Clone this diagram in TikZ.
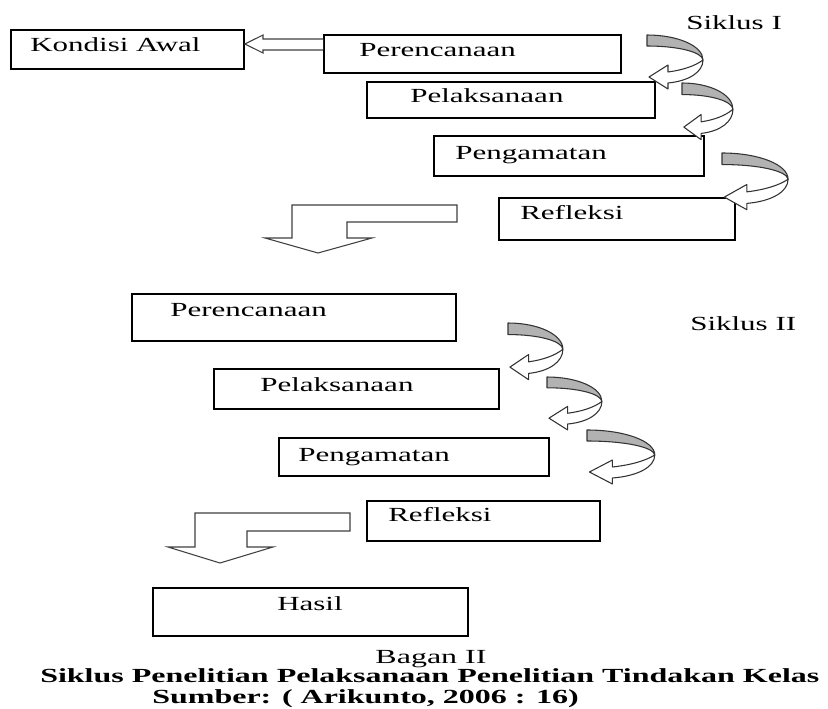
\documentclass[tikz,border=0pt]{standalone}
\usepackage{fontspec}
\setmainfont{Liberation Serif}
\newcommand{\wtxt}[1]{\scalebox{1.55}[1]{#1}}
\newcommand{\wcap}[1]{\scalebox{1.6}[1]{#1}}
\tikzset{
  boxst/.style={draw=black, line width=1.4pt, fill=white},
  txt/.style={inner sep=0pt, font=\fontsize{15}{18}\selectfont, text=black},
  captxt/.style={inner sep=0pt, font=\fontsize{15}{18}\selectfont, text=black},
  blockarrow/.style={draw=black!75, line width=0.8pt, fill=white, line join=miter},
  curlline/.style={draw=black!80, line width=0.8pt, line join=round}
}
\newcommand{\curlarrow}[4]{%
\begin{scope}[shift={(#1,#2)},xscale=#3,yscale=#4]
\filldraw[curlline, fill=gray!60] (0,0) .. controls (31,0) and (56,11) .. (56,25)
   .. controls (55,17) and (31,11) .. (0,11) -- cycle;
\filldraw[curlline, fill=white] (56,25) .. controls (56,37) and (42,46) .. (21,48)
   -- (21,54) -- (2,42) -- (21,30) -- (21,37) .. controls (36,35) and (48,31) .. (56,25) -- cycle;
\end{scope}}
\begin{document}
\begin{tikzpicture}[x=0.75pt,y=-0.75pt]
\useasboundingbox (0,0) rectangle (828,709);
\fill[white] (0,0) rectangle (828,709);

% boxes
\node[boxst, minimum width=233*0.75pt, minimum height=39*0.75pt, anchor=north west] (ka) at (10,29) {};
\node[boxst, minimum width=297*0.75pt, minimum height=38*0.75pt, anchor=north west] (p1) at (323,34) {};
\node[boxst, minimum width=288*0.75pt, minimum height=36*0.75pt, anchor=north west] (l1) at (366,81) {};
\node[boxst, minimum width=270*0.75pt, minimum height=40*0.75pt, anchor=north west] (g1) at (433,135) {};
\node[boxst, minimum width=236*0.75pt, minimum height=42*0.75pt, anchor=north west] (r1) at (498,197) {};
\node[boxst, minimum width=324*0.75pt, minimum height=47*0.75pt, anchor=north west] (p2) at (131,293) {};
\node[boxst, minimum width=285*0.75pt, minimum height=40*0.75pt, anchor=north west] (l2) at (213,368) {};
\node[boxst, minimum width=270*0.75pt, minimum height=38*0.75pt, anchor=north west] (g2) at (278,437) {};
\node[boxst, minimum width=233*0.75pt, minimum height=40*0.75pt, anchor=north west] (r2) at (366,500) {};
\node[boxst, minimum width=315*0.75pt, minimum height=48*0.75pt, anchor=north west] (hs) at (152,587) {};

% texts
\node[txt, anchor=base west] (tka) at (30,52) {\wtxt{Kondisi Awal}};
\node[txt, anchor=base west] (tp1) at (359,57) {\wtxt{Perencanaan}};
\node[txt, anchor=base west] (tl1) at (410,103) {\wtxt{Pelaksanaan}};
\node[txt, anchor=base west] (tg1) at (455,160) {\wtxt{Pengamatan}};
\node[txt, anchor=base west] (tr1) at (520,220) {\wtxt{Refleksi}};
\node[txt, anchor=base west] (tp2) at (170,316) {\wtxt{Perencanaan}};
\node[txt, anchor=base west] (tl2) at (260,391) {\wtxt{Pelaksanaan}};
\node[txt, anchor=base west] (tg2) at (298,461) {\wtxt{Pengamatan}};
\node[txt, anchor=base west] (tr2) at (388,521) {\wtxt{Refleksi}};
\node[txt, anchor=base] (ths) at (310,610) {\wtxt{Hasil}};
\node[txt, anchor=base west] (s1) at (686,30) {\wtxt{Siklus I}};
\node[txt, anchor=base west] (s2) at (690,330) {\wtxt{Siklus II}};

% caption
\node[captxt, anchor=base] (bagan) at (431,663) {\wcap{Bagan II}};
\node[captxt, anchor=base west, font=\fontsize{15}{18}\selectfont\bfseries] (cap2) at (40,682) {\wcap{Siklus Penelitian Pelaksanaan Penelitian Tindakan Kelas}};
\node[captxt, anchor=base west, font=\fontsize{15}{18}\selectfont\bfseries] (cap3) at (152,703) {\wcap{Sumber: ( Arikunto, 2006 : 16)}};

% left block arrow Perencanaan -> Kondisi Awal
\filldraw[blockarrow] (p1.west |- 0,39) -- (263,39) -- (263,35) -- (ka.east |- 0,44) -- (263,53) -- (263,50) -- (p1.west |- 0,50);

% elbow arrows
\filldraw[blockarrow] (457,205) -- (292,205) -- (292,238) -- (265,238) -- (318,253) -- (372,238) -- (347,238) -- (347,222) -- (457,222) -- cycle;
\filldraw[blockarrow] (350,513) -- (195,513) -- (195,547) -- (168,547) -- (220,563) -- (273,547) -- (247,547) -- (247,531) -- (350,531) -- cycle;

% curled arrows
\curlarrow{647}{35}{1}{1}
\curlarrow{682}{83}{0.91}{1.05}
\curlarrow{722}{153}{1.18}{1.05}
\curlarrow{508}{323}{0.98}{1.05}
\curlarrow{547}{377}{0.98}{0.98}
\curlarrow{587}{430}{1.21}{1}
\end{tikzpicture}
\end{document}
